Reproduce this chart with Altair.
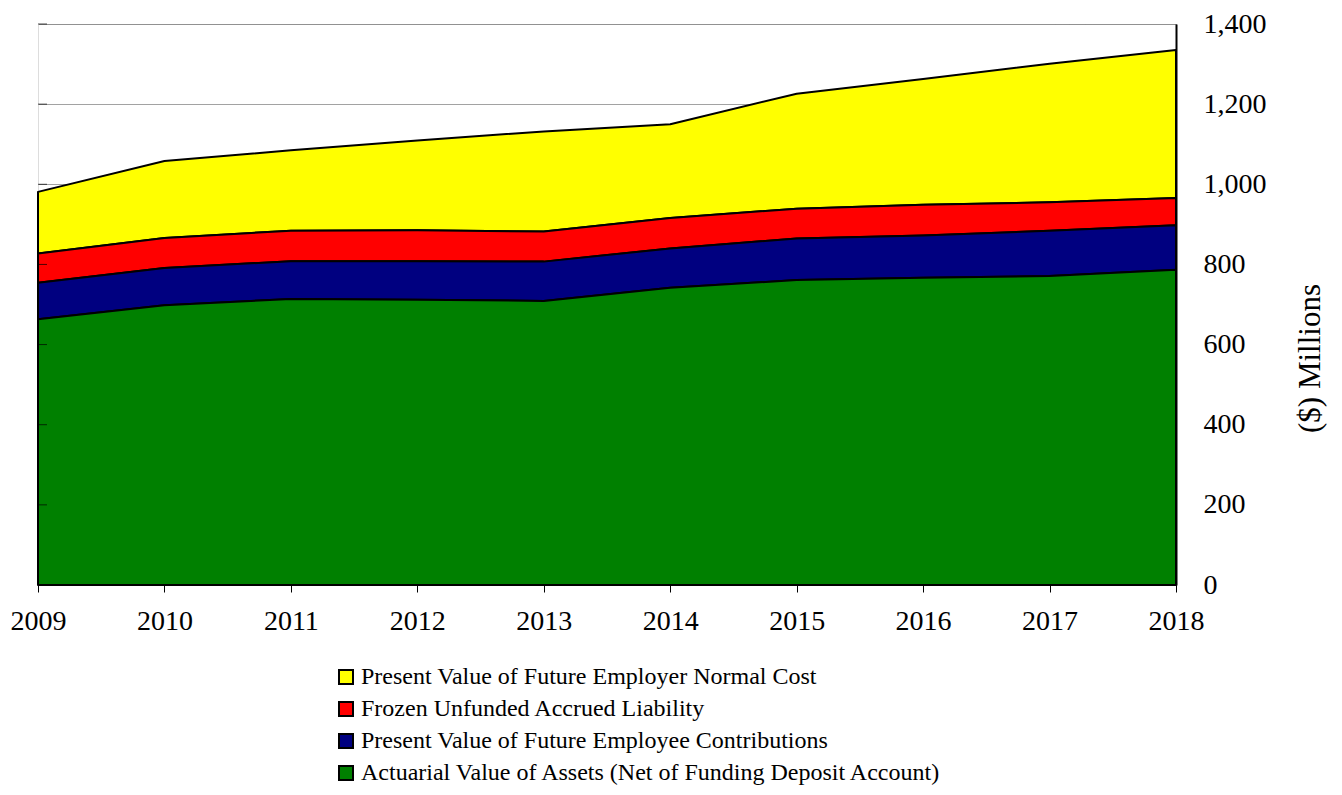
import altair as alt
import pandas as pd

years = [2009, 2010, 2011, 2012, 2013, 2014, 2015, 2016, 2017, 2018]
y_ticks = [0, 200, 400, 600, 800, 1000, 1200, 1400]

series_names = [
    "Present Value of Future Employer Normal Cost",
    "Frozen Unfunded Accrued Liability",
    "Present Value of Future Employee Contributions",
    "Actuarial Value of Assets (Net of Funding Deposit Account)",
]
series_colors = ["#FFFF00", "#FF0000", "#000080", "#008000"]

# Values in $ millions (component amounts, stacked)
assets = [663, 698, 714, 712, 709, 742, 761, 767, 771, 787]
employee_contrib = [91, 93, 94, 96, 98, 98, 104, 105, 113, 111]
frozen_ual = [73, 75, 76, 77, 75, 76, 74, 77, 71, 68]
employer_normal_cost = [154, 192, 201, 224, 250, 234, 287, 314, 346, 369]

components = [employer_normal_cost, frozen_ual, employee_contrib, assets]
stack_order = [3, 2, 1, 0]  # assets at bottom

rows = []
for name, vals, o in zip(series_names, components, stack_order):
    for yr, v in zip(years, vals):
        rows.append({"year": yr, "series": name, "value": v, "ord": o})
df = pd.DataFrame(rows)

tick_df = pd.DataFrame({"year": [years[0]] * len(y_ticks), "v": y_ticks})

FONT = "Liberation Serif"

x_scale = alt.Scale(domain=[2009, 2018], nice=False, zero=False)
y_scale = alt.Scale(domain=[0, 1400], nice=False)

areas = (
    alt.Chart(df)
    .mark_area(stroke="black", strokeWidth=2, strokeJoin="round", opacity=1)
    .encode(
        x=alt.X(
            "year:Q",
            scale=x_scale,
            axis=alt.Axis(
                values=years,
                format="d",
                title=None,
                grid=False,
                ticks=True,
                tickSize=7,
                tickColor="black",
                domainColor="black",
                domainWidth=1,
                labelFont=FONT,
                labelFontSize=28,
                labelColor="black",
                labelPadding=15,
                labelFlush=False,
                labelOverlap=False,
            ),
        ),
        y=alt.Y(
            "value:Q",
            stack="zero",
            scale=y_scale,
            axis=alt.Axis(
                orient="right",
                values=y_ticks,
                format=",d",
                title="($) Millions",
                titleFont=FONT,
                titleFontSize=31,
                titleFontWeight="normal",
                titleColor="black",
                titleAngle=270,
                titleX=134,
                titleY=334,
                titleBaseline="middle",
                ticks=False,
                grid=True,
                gridColor="#444444",
                gridDash=[1, 1],
                gridWidth=1,
                domainColor="black",
                domainWidth=2,
                labelFont=FONT,
                labelFontSize=28,
                labelColor="black",
                labelPadding=27,
                labelBaseline="middle",
                labelFlush=False,
            ),
        ),
        color=alt.Color(
            "series:N",
            scale=alt.Scale(domain=series_names, range=series_colors),
            sort=series_names,
            legend=alt.Legend(
                title=None,
                orient="none",
                legendX=296,
                legendY=641,
                direction="vertical",
                symbolType="square",
                symbolSize=196,
                symbolStrokeColor="black",
                symbolStrokeWidth=2,
                symbolOpacity=1,
                labelFont=FONT,
                labelFontSize=24,
                labelColor="black",
                labelOffset=3,
                rowPadding=8,
                labelLimit=900,
                padding=0,
            ),
        ),
        order=alt.Order("ord:Q", sort="ascending"),
    )
)

left_ticks = (
    alt.Chart(tick_df)
    .mark_tick(orient="horizontal", color="black", size=9, thickness=1, xOffset=4.5)
    .encode(
        x=alt.X("year:Q", scale=x_scale),
        y=alt.Y("v:Q", scale=y_scale),
    )
)

chart = (
    alt.layer(areas, left_ticks)
    .properties(
        width=1138,
        height=561,
        autosize=alt.AutoSizeParams(type="none"),
        padding={"left": 30, "top": 16, "right": 158, "bottom": 202},
    )
    .configure_view(stroke="black", strokeWidth=1)
    .configure(background="white")
)

chart.save("out.html", embed_options={"renderer": "svg", "actions": False})
